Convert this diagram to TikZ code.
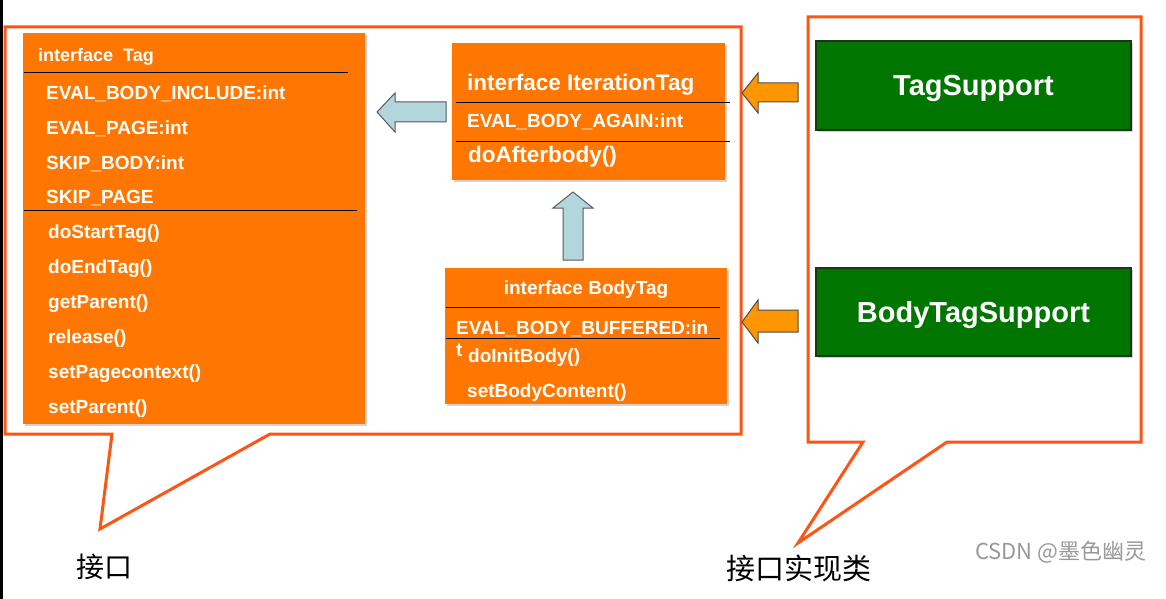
\documentclass[tikz,border=0pt]{standalone}
\usepackage{fontspec}
\setmainfont{Liberation Sans}
\newfontfamily\cjk{Noto Sans CJK SC}
\usetikzlibrary{shadows}
\definecolor{calloutred}{RGB}{255,85,20}
\definecolor{boxorange}{RGB}{255,119,0}
\definecolor{arrowblue}{RGB}{178,214,220}
\definecolor{arroworange}{RGB}{255,150,0}
\definecolor{supportgreen}{RGB}{0,118,0}
\definecolor{supportedge}{RGB}{25,55,25}
\tikzset{
  callout/.style = {draw=calloutred, line width=3pt, fill=white, line join=miter},
  ifacebox/.style = {fill=boxorange, inner sep=0pt, anchor=north west,
                     drop shadow={shadow xshift=2pt, shadow yshift=-2pt, opacity=.35}},
  implbox/.style = {fill=supportgreen, draw=supportedge, line width=2pt,
                    text=white, font=\bfseries\fontsize{29}{32}\selectfont, text depth=0pt,
                    drop shadow={shadow xshift=2pt, shadow yshift=-2pt, opacity=.35}},
  member/.style = {anchor=base west, inner sep=0pt, text=white,
                   font=\bfseries\fontsize{#1}{#1}\selectfont},
  member/.default = 19,
  sepline/.style = {black, line width=0.9pt},
  extendarrow/.style = {fill=arrowblue, draw=black!65, line width=1pt, line join=miter},
  implarrow/.style = {fill=arroworange, draw=black!70, line width=1pt, line join=miter}
}

\begin{document}
\begin{tikzpicture}[x=1pt, y=-1pt]
	\fill[white] (0,0) rectangle (1166,599);
	\useasboundingbox (0,0) rectangle (1166,599);
	\fill[black] (0,0) rectangle (3,599);
	
	% Callouts
	\draw[callout] (5,27) -- (741,27) -- (741,434) -- (270,434) -- (100,529) -- (112,434) -- (5,434) -- cycle;
	\draw[callout] (808,17) -- (1141,17) -- (1141,442) -- (947,442) -- (798,543) -- (863,442) -- (808,442) -- cycle;
	
	% interface Tag
	\node[ifacebox, minimum width=342pt, minimum height=391pt] (tag) at (23,33) {};
	\node[member=18] (tagname) at (38,62) {interface\ \ Tag};
	\draw[sepline] (24,72) -- (348,72);
	\node[member] (f1) at (46,100) {EVAL\_BODY\_INCLUDE:int};
	\node[member] (f2) at (46,134) {EVAL\_PAGE:int};
	\node[member] (f3) at (46,169) {SKIP\_BODY:int};
	\node[member] (f4) at (46,203) {SKIP\_PAGE};
	\draw[sepline] (24,210) -- (357,210);
	\node[member] (m1) at (48,238) {doStartTag()};
	\node[member] (m2) at (48,273) {doEndTag()};
	\node[member] (m3) at (48,308) {getParent()};
	\node[member] (m4) at (48,343) {release()};
	\node[member] (m5) at (48,378) {setPagecontext()};
	\node[member] (m6) at (48,413) {setParent()};
	
	% interface IterationTag
	\node[ifacebox, minimum width=273pt, minimum height=137pt] (iter) at (452,43) {};
	\node[member=22.5] (itername) at (467,91) {interface IterationTag};
	\draw[sepline] (456,102) -- (730,102);
	\node[member] (i1) at (467,128) {EVAL\_BODY\_AGAIN:int};
	\draw[sepline] (456,141) -- (730,141);
	\node[member=22.5] (i2) at (468,162) {doAfterbody()};
	
	% interface BodyTag
	\node[ifacebox, minimum width=282pt, minimum height=136pt] (body) at (445,268) {};
	\node[member, anchor=base] (bodyname) at (586,294) {interface BodyTag};
	\draw[sepline] (446,307) -- (720,307);
	\node[member] (b1) at (456,334) {EVAL\_BODY\_BUFFERED:in};
	\draw[sepline] (446,338) -- (720,338);
	\node[member] (b1t) at (456,356) {t};
	\node[member] (b2) at (468,362) {doInitBody()};
	\node[member] (b3) at (467,397) {setBodyContent()};
	
	% Implementations
	\node[implbox, minimum width=315pt, minimum height=89pt, inner sep=0pt] (tagsup) at (973.5,85.5) {TagSupport};
	\node[implbox, minimum width=315pt, minimum height=88pt, inner sep=0pt] (bodysup) at (973.5,312) {BodyTagSupport};
	
	% Arrows (extends)
	\draw[extendarrow] (377,112) -- (395,93) -- (395,102) -- (446,102) -- (446,122) -- (395,122) -- (395,132) -- cycle;
	\draw[extendarrow] (573,192) -- (593,208) -- (583,208) -- (583,260) -- (563,260) -- (563,208) -- (553,208) -- cycle;
	
	% Arrows (implements)
	\draw[implarrow] (742,93) -- (758,73) -- (758,83) -- (798,83) -- (798,102) -- (758,102) -- (758,113) -- cycle;
	\draw[implarrow] (742,322) -- (758,300) -- (758,310) -- (798,310) -- (798,332) -- (758,332) -- (758,343) -- cycle;
	
	% Labels
	\node[font=\cjk\fontsize{28}{28}\selectfont, anchor=west, inner sep=0pt] (ifacelabel) at (76,567) {接口};
	\node[font=\cjk\fontsize{29}{29}\selectfont, anchor=west, inner sep=0pt] (impllabel) at (726,568) {接口实现类};
	\node[font=\cjk\fontsize{22}{22}\selectfont, text=black!40, anchor=west, inner sep=0pt] (mark) at (975,552) {CSDN @墨色幽灵};
\end{tikzpicture}
\end{document}
